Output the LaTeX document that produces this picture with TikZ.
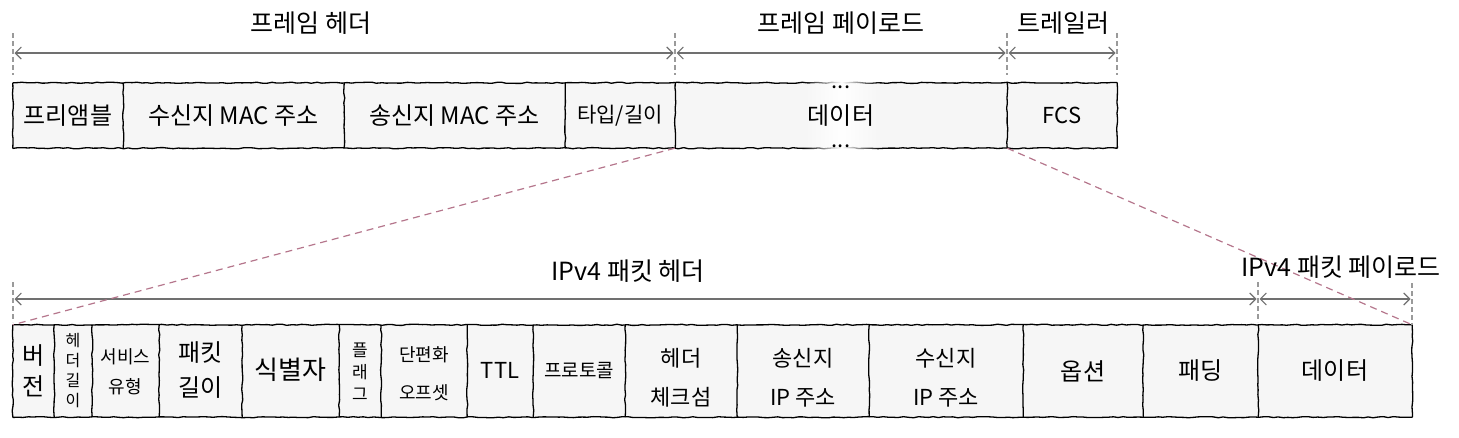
\documentclass[tikz,border=0pt]{standalone}
\usepackage{fontspec}
\setmainfont{Noto Sans CJK KR}
\usetikzlibrary{arrows.meta,decorations.pathmorphing,backgrounds,fadings}
\definecolor{boxfill}{HTML}{F6F6F6}
\definecolor{arrgray}{HTML}{707070}
\definecolor{guide}{HTML}{9A9A9A}
\definecolor{zoomline}{HTML}{B5768C}
\tikzfading[name=midfade, left color=transparent!100, right color=transparent!100, middle color=transparent!0]
\tikzset{
  sketch/.style={decorate, decoration={random steps, segment length=5pt, amplitude=0.6pt}, line width=1.3pt, draw=black, rounded corners=0.4pt},
  cell/.style={inner sep=0pt, align=center, text=black},
  guideline/.style={draw=guide, dash pattern=on 5pt off 3pt, line width=1.1pt},
  span/.style={draw=arrgray, line width=1.1pt, {Straight Barb[length=6pt,width=12pt]}-{Straight Barb[length=6pt,width=12pt]}, shorten <=1.5pt, shorten >=1.5pt},
  zoomed/.style={draw=zoomline, line width=1.2pt, dash pattern=on 7pt off 5pt},
  title/.style={font=\fontsize{25}{25}\selectfont, inner sep=0pt},
  fbig/.style={font=\fontsize{24}{31}\selectfont},
  fmid/.style={font=\fontsize{22}{39}\selectfont},
  fsmall/.style={font=\fontsize{18}{30}\selectfont},
}
\begin{document}
\begin{tikzpicture}[x=1pt,y=-1pt]
\pgfmathsetseed{7}
\useasboundingbox (0,0) rectangle (1459,437);

% ---------- top row: Ethernet frame ----------
\node[cell, fbig, minimum width=110pt, minimum height=65pt] (pre) at (68,115.5) {프리앰블};
\node[cell, fbig, minimum width=221pt, minimum height=65pt] (dst) at (233.5,115.5) {수신지 MAC 주소};
\node[cell, fbig, minimum width=221pt, minimum height=65pt] (src) at (454.5,115.5) {송신지 MAC 주소};
\node[cell, font=\fontsize{21}{24}\selectfont, minimum width=110pt, minimum height=65pt] (typ) at (620,115.5) {타입/길이};
\node[cell, fbig, minimum width=332pt, minimum height=65pt] (dat) at (841,115.5) {데이터};
\node[cell, font=\fontsize{22}{24}\selectfont, minimum width=110pt, minimum height=65pt] (fcs) at (1062,115.5) {FCS};
\node[inner sep=0pt, anchor=base, font=\fontsize{22}{22}\selectfont] (dt1) at (841,88) {...};
\node[inner sep=0pt, anchor=base, font=\fontsize{22}{22}\selectfont] (dt2) at (841,147) {...};

% ---------- bottom row: IPv4 packet ----------
\node[cell, fbig, minimum width=41pt, minimum height=92pt] (ver) at (33.5,371) {버\\전};
\node[cell, font=\fontsize{16}{20}\selectfont, minimum width=38pt, minimum height=92pt] (hl) at (73,371) {헤\\더\\길\\이};
\node[cell, fsmall, minimum width=67pt, minimum height=92pt] (tos) at (125.5,372) {서비스\\유형};
\node[cell, font=\fontsize{24}{35}\selectfont, minimum width=83pt, minimum height=92pt] (tl) at (200.5,370) {패킷\\길이};
\node[cell, font=\fontsize{26}{30}\selectfont, minimum width=97pt, minimum height=92pt] (id) at (290.5,370) {식별자};
\node[cell, font=\fontsize{17}{22}\selectfont, minimum width=42pt, minimum height=92pt] (fl) at (360,372) {플\\래\\그};
\node[cell, font=\fontsize{18}{38}\selectfont, minimum width=86pt, minimum height=92pt] (fo) at (424,374) {단편화\\오프셋};
\node[cell, font=\fontsize{22}{24}\selectfont, minimum width=66pt, minimum height=92pt] (ttl) at (500,370) {TTL};
\node[cell, font=\fontsize{19}{20}\selectfont, minimum width=92pt, minimum height=92pt] (pro) at (579,371) {프로토콜};
\node[cell, fmid, minimum width=112pt, minimum height=92pt] (cks) at (681,378) {헤더\\체크섬};
\node[cell, fmid, minimum width=132pt, minimum height=92pt] (sip) at (803,378) {송신지\\IP 주소};
\node[cell, fmid, minimum width=154pt, minimum height=92pt] (dip) at (946,378) {수신지\\IP 주소};
\node[cell, fbig, minimum width=120pt, minimum height=92pt] (opt) at (1083,371) {옵션};
\node[cell, fbig, minimum width=115pt, minimum height=92pt] (pad) at (1200.5,371) {패딩};
\node[cell, fbig, minimum width=154pt, minimum height=92pt] (pl) at (1335,371) {데이터};

% ---------- titles ----------
\node[title] (lhdr) at (311,23) {프레임 헤더};
\node[title] (lpay) at (841,23) {프레임 페이로드};
\node[title] (ltrl) at (1063,23) {트레일러};
\node[title] (lip) at (628,271) {IPv4 패킷 헤더};
\node[title] (lipp) at (1341,267) {IPv4 패킷 페이로드};

% ---------- guide coordinates ----------
\coordinate (ga1) at (13,33);   \coordinate (gb1) at (13,75);
\coordinate (ga2) at (675,33);  \coordinate (gb2) at (675,75);
\coordinate (ga3) at (1007,33); \coordinate (gb3) at (1007,75);
\coordinate (ga4) at (1117,33); \coordinate (gb4) at (1117,75);
\coordinate (ha1) at (13,53);   \coordinate (ha2) at (675,53);
\coordinate (ha3) at (1007,53); \coordinate (ha4) at (1117,53);
\coordinate (gc1) at (13,282);   \coordinate (gd1) at (13,322);
\coordinate (gc2) at (1258,282); \coordinate (gd2) at (1258,322);
\coordinate (gc3) at (1412,283); \coordinate (gd3) at (1412,325);
\coordinate (hb1) at (13,299);   \coordinate (hb2) at (1258,299); \coordinate (hb3) at (1412,299);

\begin{pgfonlayer}{background}
  \fill[boxfill] (pre.north west) rectangle (fcs.south east);
  \fill[boxfill] (ver.north west) rectangle (pl.south east);
  \draw[sketch] (pre.north west) rectangle (fcs.south east);
  \foreach \n in {pre,dst,src,typ,dat}
    \draw[sketch] (\n.north east) -- (\n.south east);
  \draw[sketch] (ver.north west) rectangle (pl.south east);
  \foreach \n in {ver,hl,tos,tl,id,fl,fo,ttl,pro,cks,sip,dip,opt,pad}
    \draw[sketch] (\n.east |- ver.north) -- (\n.east |- ver.south);
  \fill[white, path fading=midfade] (803,76) rectangle (880,156);
  % guides
  \foreach \i in {1,2,3,4} \draw[guideline] (ga\i) -- (gb\i);
  \foreach \i in {1,2,3} \draw[guideline] (gc\i) -- (gd\i);
  \draw[span] (ha1) -- (ha2);
  \draw[span] (ha2) -- (ha3);
  \draw[span] (ha3) -- (ha4);
  \draw[span] (hb1) -- (hb2);
  \draw[span] (hb2) -- (hb3);
  % zoom lines
  \draw[zoomed] (dat.south west) -- (ver.north west);
  \draw[zoomed] (dat.south east) -- (pl.north east);
\end{pgfonlayer}
\end{tikzpicture}
\end{document}
